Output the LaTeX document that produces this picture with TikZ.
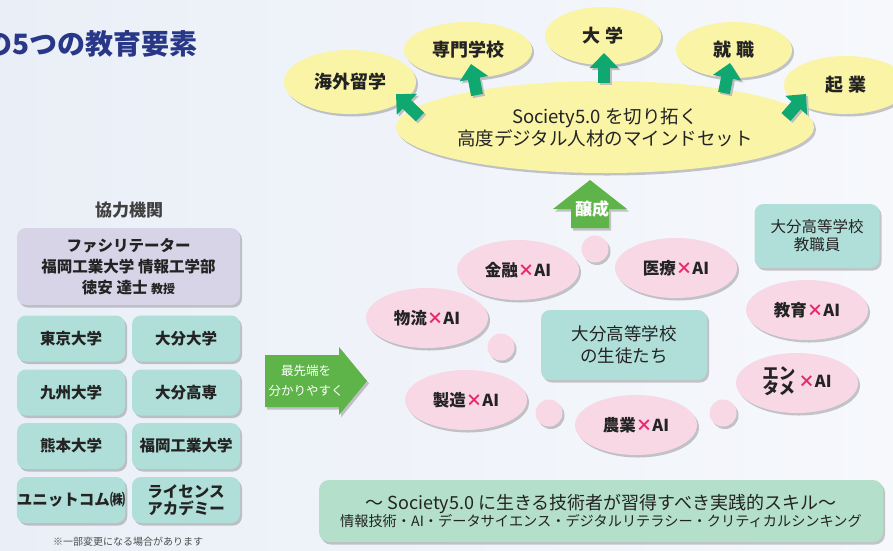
\documentclass[tikz,border=0pt]{standalone}
\usepackage{fontspec}
\setmainfont{Noto Sans CJK JP}
\usetikzlibrary{shapes.geometric}
\usetikzlibrary{arrows.meta}
\usetikzlibrary{shadows}
\definecolor{bgleft}{RGB}{234,239,247}
\definecolor{bgright}{RGB}{246,248,252}
\definecolor{inkgray}{RGB}{35,35,35}
\definecolor{titlenavy}{RGB}{40,55,135}
\definecolor{ellyellow}{RGB}{250,244,166}
\definecolor{ellpink}{RGB}{249,216,229}
\definecolor{boxteal}{RGB}{176,223,217}
\definecolor{boxpurple}{RGB}{216,212,232}
\definecolor{boxmint}{RGB}{180,223,202}
\definecolor{arrowgreen}{RGB}{14,168,112}
\definecolor{leafgreen}{RGB}{94,180,72}
\definecolor{xpink}{RGB}{232,40,110}
\newcommand\kakeAI{\textcolor{xpink}{×}AI}

\begin{document}
\begin{tikzpicture}[x=1pt,y=-1pt,
  shade/.style={drop shadow={shadow xshift=2pt,shadow yshift=-2.5pt,opacity=.3,fill=black!70}},
  yel/.style={ellipse,fill=ellyellow,inner sep=0pt,shade,text=inkgray,font=\bfseries\fontsize{18}{20}\selectfont},
  pnk/.style={ellipse,fill=ellpink,minimum width=122,minimum height=60,inner sep=0pt,shade,text=inkgray,font=\bfseries\fontsize{16.5}{18}\selectfont},
  bub/.style={circle,fill=ellpink,minimum size=27,inner sep=0pt,shade},
  tbox/.style={rounded corners=9pt,fill=boxteal,inner sep=0pt,shade,text=inkgray,align=center},
  org/.style={tbox,minimum width=108,minimum height=46,font=\bfseries\fontsize{15.5}{18}\selectfont},
  upto/.style={draw=arrowgreen,line width=12pt,-{Triangle[length=15pt,width=28pt]}},
  upshade/.style={upto,draw=black!25,transform canvas={xshift=2pt,yshift=-2pt}},
]
\useasboundingbox (0,0) rectangle (893,550);
\clip (0,0) rectangle (893,550);
\shade[left color=bgleft,right color=bgright] (0,0) rectangle (893,550);

\node[anchor=east,text=titlenavy,font=\bfseries\fontsize{28}{30}\selectfont] (title) at (201,44) {の5つの教育要素};

\node[yel,minimum width=132,minimum height=64] (ryugaku) at (350,82) {海外留学};
\node[yel,minimum width=128,minimum height=56] (senmon) at (468,50) {専門学校};
\node[yel,minimum width=116,minimum height=58] (daigaku) at (603,36) {大 学};
\node[yel,minimum width=116,minimum height=56] (shushoku) at (734,50) {就 職};
\node[yel,minimum width=124,minimum height=58] (kigyo) at (846,85) {起 業};
\node[ellipse,fill=ellyellow,inner sep=0pt,shade,minimum width=412,minimum height=92,align=center,text=inkgray,font=\fontsize{18.5}{22}\selectfont] (mind) at (605,127) {Society5.0 を切り拓く\\高度デジタル人材のマインドセット};

\coordinate (t1) at (420,117); \coordinate (h1) at (396,94);
\coordinate (t2) at (477,95);  \coordinate (h2) at (471,64);
\coordinate (t3) at (604,83);  \coordinate (h3) at (604,53);
\coordinate (t4) at (724,93);  \coordinate (h4) at (730,63);
\coordinate (t5) at (786,117); \coordinate (h5) at (806,94);
\foreach \i in {1,...,5} {
  \draw[upshade] (t\i) -- (h\i);
  \draw[upto] (t\i) -- (h\i);
}

\path[fill=leafgreen,shade] (571,228) -- (571,209) -- (553,209) -- (590,180) -- (627,209) -- (609,209) -- (609,228) -- cycle;
\node[text=white,font=\bfseries\fontsize{17}{18}\selectfont] (jousei) at (592,209) {醸成};

\path[fill=leafgreen,shade] (265,355) -- (339,355) -- (339,347) -- (367,381) -- (339,415) -- (339,407) -- (265,407) -- cycle;
\node[text=white,align=center,font=\fontsize{12.5}{20}\selectfont] (saisentan) at (306,381) {最先端を\\分かりやすく};

\node[bub] (b1) at (595,249) {};
\node[bub] (b2) at (501,347) {};
\node[bub] (b3) at (549,413) {};
\node[bub] (b4) at (723,413) {};
\node[pnk] (kinyu) at (518,270) {金融\kakeAI};
\node[pnk] (iryo) at (676,268) {医療\kakeAI};
\node[pnk] (butsuryu) at (427,318) {物流\kakeAI};
\node[pnk] (kyoiku) at (807,310) {教育\kakeAI};
\node[pnk] (seizo) at (466,400) {製造\kakeAI};
\node[pnk] (nogyo) at (636,425) {農業\kakeAI};
\node[pnk] (entame) at (797,383) {\begin{tabular}{@{}c@{}}エン\\[-4pt]タメ\end{tabular}\hspace{3pt}\kakeAI};

\node[tbox,minimum width=166,minimum height=70,font=\fontsize{17.5}{22}\selectfont] (seito) at (624,345) {大分高等学校\\の生徒たち};
\node[tbox,minimum width=125,minimum height=64,font=\fontsize{15.5}{18}\selectfont] (kyoshoku) at (817,236) {大分高等学校\\教職員};

\node[text=black!75,font=\bfseries\fontsize{17}{18}\selectfont] (kyoryoku) at (129,210) {協力機関};
\node[tbox,fill=boxpurple,minimum width=223,minimum height=77,font=\bfseries\fontsize{15.5}{21}\selectfont] (facil) at (128.5,266.5) {ファシリテーター\\福岡工業大学 情報工学部\\徳安 達士 {\fontsize{12}{12}\selectfont 教授}};
\node[org] (todai) at (71,338.5) {東京大学};
\node[org] (oitadai) at (186,338.5) {大分大学};
\node[org] (kyudai) at (71,392.5) {九州大学};
\node[org] (oitakosen) at (186,392.5) {大分高専};
\node[org] (kumadai) at (71,446) {熊本大学};
\node[org] (fukkodai) at (186,446) {福岡工業大学};
\node[org] (unitcom) at (71,500) {ユニットコム㈱};
\node[org,font=\bfseries\fontsize{15.5}{17}\selectfont] (license) at (186,500) {ライセンス\\アカデミー};
\node[text=black!70,font=\fontsize{10}{12}\selectfont] (note) at (128,542) {※一部変更になる場合があります};

\node[tbox,fill=boxmint,rounded corners=10pt,minimum width=564,minimum height=62] (skill) at (601,511) {{\fontsize{18}{24}\selectfont ～ Society5.0 に生きる技術者が習得すべき実践的スキル～}\\{\fontsize{14.2}{16}\selectfont 情報技術・AI・データサイエンス・デジタルリテラシー・クリティカルシンキング}};
\end{tikzpicture}
\end{document}
